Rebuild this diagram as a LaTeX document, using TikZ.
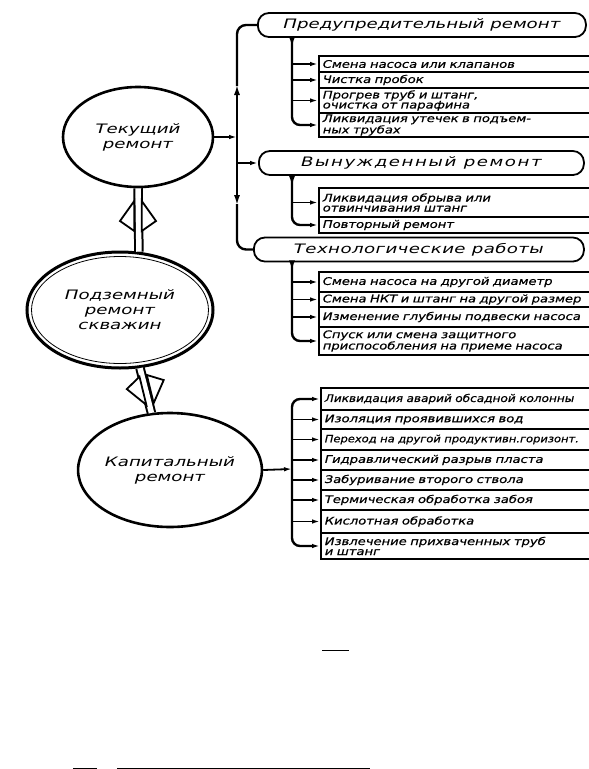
\documentclass[tikz,border=0pt]{standalone}
\usepackage{fontspec}
\newfontfamily\draftfont{DejaVu Sans}[FakeStretch=1.4]
\newfontfamily\rowfont{DejaVu Sans}[FakeStretch=1.25,FakeBold=0.6]
\newfontfamily\rownarrow{DejaVu Sans}[FakeStretch=1.15,FakeBold=0.6]
\usetikzlibrary{arrows.meta,calc,positioning,shapes.geometric}

\tikzset{
  oval/.style={ellipse, draw, line width=2.6pt, inner sep=0pt, align=center,
    font=\draftfont\itshape\fontsize{13}{15}\selectfont},
  pill/.style={draw, line width=1.8pt, rounded corners=11pt, anchor=west,
    minimum height=24pt, inner sep=0pt,
    font=\draftfont\itshape\fontsize{13}{15}\selectfont},
  rowbox/.style={draw, line width=1.6pt, anchor=west, minimum height=#1,
    minimum width=300pt, text width=292pt, align=left, inner xsep=3pt, inner ysep=0pt,
    font=\rowfont\itshape\fontsize{10.5}{10}\selectfont},
  bus/.style={line width=2.4pt},
  twig/.style={line width=1.8pt, -{Latex[length=8pt,width=4.5pt]}},
  shaft/.style={double, line width=2pt, double distance=5.5pt},
  barb/.style={draw, fill=white, line width=1.8pt, line join=miter},
}

\begin{document}
\begin{tikzpicture}[x=1pt,y=-1pt,>={Latex[length=11pt,width=6pt]}]
	\useasboundingbox (0,0) rectangle (589,769);
	
	% Ovals
	\node[oval, minimum width=150pt, minimum height=100pt] (tek) at (138,137) {Текущий\\ремонт};
	\node[oval, minimum width=186pt, minimum height=116pt, line width=3pt] (podz) at (120,310) {Подземный\\ремонт\\скважин};
	\draw[line width=0.8pt] (podz.center) ellipse [x radius=88.5pt, y radius=53.5pt];
	\node[oval, minimum width=180pt, minimum height=114pt] (kap) at (170,470) {Капитальный\\ремонт};
	
	% Hollow arrows between the ovals
	\draw[shaft] (podz.72) -- (tek.south);
	\begin{scope}[shift={(138,201)}, rotate=90]
		\draw[barb] (0,3.75) -- (-20,18) -- (-30,3.75) -- cycle;
		\draw[barb] (0,-3.75) -- (-20,-18) -- (-30,-3.75) -- cycle;
	\end{scope}
	\draw[shaft] (podz.289.5) -- (kap.108.8);
	\begin{scope}[shift={(150,404)}, rotate=-76.3]
		\draw[barb] (0,3.75) -- (-20,19) -- (-29,3.75) -- cycle;
		\draw[barb] (0,-3.75) -- (-20,-19) -- (-29,-3.75) -- cycle;
	\end{scope}
	
	% Groups of the current repair
	\node[pill, minimum width=328pt] (prev) at (257,25) {Предупредительный ремонт};
	\node[pill, minimum width=325pt] (forc) at (258,163) {\addfontfeature{LetterSpace=12}Вынужденный ремонт};
	\node[pill, minimum width=330pt] (tech) at (253,249.5) {\addfontfeature{LetterSpace=3}Технологические работы};
	
	\coordinate (tbus) at (237,137);
	\draw[twig] (tek.east) -- (tbus);
	\draw[bus,->] (tbus) -- (237,84);
	\draw[bus,rounded corners=9pt] (237,86) |- (prev.west);
	\draw[bus,->] (tbus) -- (237,206);
	\draw[bus,rounded corners=9pt] (237,204) |- (tech.west);
	\draw[twig] (forc.west -| tbus) -- (forc.west);
	
	% Preventive repair
	\node[rowbox=16pt] (pa) at (318,64) {Смена насоса или клапанов};
	\node[rowbox=16pt] (pb) at (318,80) {Чистка пробок};
	\node[rowbox=25pt] (pc) at (318,100.5) {Прогрев труб и штанг,\\очистка от парафина};
	\node[rowbox=24pt] (pd) at (318,125) {Ликвидация утечек в подъем-\\ных трубах};
	\coordinate (pbus) at ($(prev.south west)+(35,0)$);
	\draw[bus,->] (pbus) -- ++(0,10);
	\draw[bus,rounded corners=8pt,-{Latex[length=8pt,width=4.5pt]}] (pbus) |- (pd.west);
	\foreach \r in {pa,pb,pc}
		\draw[twig] (\r.west -| pbus) -- (\r.west);
	
	% Forced repair
	\node[rowbox=29pt] (va) at (318,202.5) {Ликвидация обрыва или\\отвинчивания штанг};
	\node[rowbox=16pt] (vb) at (318,225) {Повторный ремонт};
	\coordinate (vbus) at ($(forc.south west)+(34,0)$);
	\draw[bus,->] (vbus) -- ++(0,11);
	\draw[bus,rounded corners=8pt,-{Latex[length=8pt,width=4.5pt]}] (vbus) |- (vb.west);
	\draw[twig] (va.west -| vbus) -- (va.west);
	
	% Technological works
	\node[rowbox=20pt] (ta) at (318,282) {Смена насоса на другой диаметр};
	\node[rowbox=15pt] (tb) at (318,299.5) {Смена НКТ и штанг на другой размер};
	\node[rowbox=20pt] (tc) at (318,317) {Изменение глубины подвески насоса};
	\node[rowbox=28pt] (td) at (318,341) {Спуск или смена защитного\\приспособления на приеме насоса};
	\coordinate (cbus) at ($(tech.south west)+(39,0)$);
	\draw[bus,->] (cbus) -- ++(0,9);
	\draw[bus,rounded corners=8pt,-{Latex[length=8pt,width=4.5pt]}] (cbus) |- (td.west);
	\foreach \r in {ta,tb,tc}
		\draw[twig] (\r.west -| cbus) -- (\r.west);
	
	% Capital repair
	\node[rowbox=22pt] (ka) at (320,399) {\rownarrow Ликвидация аварий обсадной колонны};
	\node[rowbox=19pt] (kb) at (320,419.5) {Изоляция проявившихся вод};
	\node[rowbox=21pt] (kc) at (320,439.5) {\rownarrow\fontsize{10}{10}\selectfont Переход на другой продуктивн.горизонт.};
	\node[rowbox=20pt] (kd) at (320,460) {Гидравлический разрыв пласта};
	\node[rowbox=20pt] (ke) at (320,480) {Забуривание второго ствола};
	\node[rowbox=20pt] (kf) at (320,500) {Термическая обработка забоя};
	\node[rowbox=23pt] (kg) at (320,521.5) {Кислотная обработка};
	\node[rowbox=26pt] (kh) at (320,546) {Извлечение прихваченных труб\\и штанг};
	\coordinate (kbus) at (292,469);
	\draw[twig] (kap.east) -- (kbus);
	\draw[bus,rounded corners=8pt,-{Latex[length=8pt,width=4.5pt]}] (kbus) |- (ka.west);
	\draw[bus,rounded corners=8pt,-{Latex[length=8pt,width=4.5pt]}] (kbus) |- (kh.west);
	\foreach \r in {kb,kc,kd,ke,kf,kg}
		\draw[twig] (\r.west -| kbus) -- (\r.west);
	
	% stray marks of the page
	\draw[line width=1pt] (322,650) -- (349,650);
	\draw[line width=1pt] (73,768) -- (97,768);
	\draw[line width=1pt] (117,768) -- (370,768);
	
\end{tikzpicture}
\end{document}
